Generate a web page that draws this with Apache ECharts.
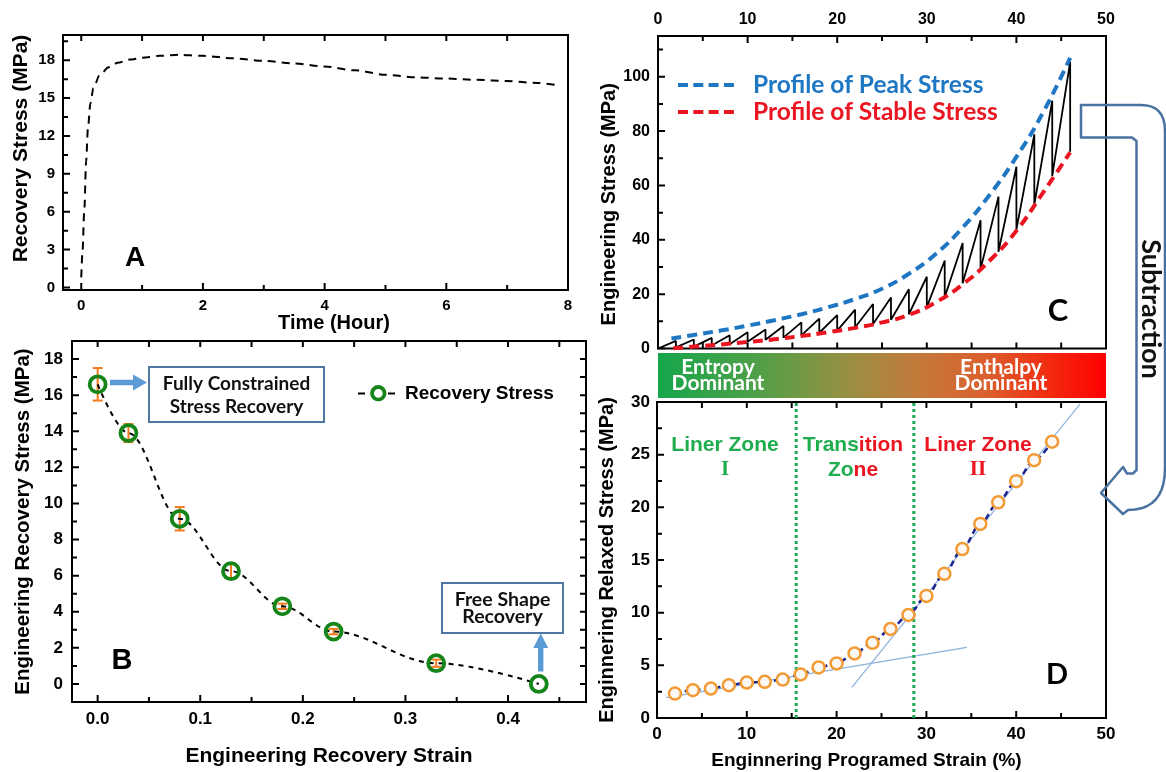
<!DOCTYPE html>
<html>
<head>
<meta charset="utf-8">
<script src="https://cdn.jsdelivr.net/npm/echarts@6/dist/echarts.min.js"></script>
<style>
  html, body { margin: 0; padding: 0; background: #fff; }
  #chart { width: 1166px; height: 772px; }
</style>
</head>
<body>
<div id="chart"></div>
<script>
// ---------- Panel A: recovery stress over time ----------
const timeHours = [0, 0.02, 0.05, 0.08, 0.11, 0.15, 0.2, 0.3, 0.45, 0.6, 0.8, 1.0, 1.3, 1.6, 2.0, 2.5, 3.0, 3.5, 4.0, 4.5, 5.0, 5.5, 6.0, 6.5, 7.0, 7.5, 7.8];
const recoveryStressA = [0.8, 2.8, 6.1, 10.0, 12.6, 14.6, 15.8, 16.8, 17.45, 17.8, 18.05, 18.2, 18.35, 18.43, 18.35, 18.15, 17.95, 17.75, 17.5, 17.2, 16.85, 16.65, 16.55, 16.45, 16.35, 16.2, 16.05];
const ticksA_x = [0, 2, 4, 6, 8];
const minorA_x = [1, 3, 5, 7];
const topA_x = [0, 1, 2, 3, 4, 5, 6, 7, 8];
const ticksA_y = [0, 3, 6, 9, 12, 15, 18];
const minorA_y = [1.5, 4.5, 7.5, 10.5, 13.5, 16.5, 19.5];

// ---------- Panel B: recovery stress vs recovery strain ----------
const recoveryStrain = [0.0, 0.03, 0.08, 0.13, 0.18, 0.23, 0.33, 0.43];
const recoveryStressB = [16.6, 13.9, 9.15, 6.25, 4.3, 2.9, 1.15, 0.0];
const recoveryStressErr = [0.9, 0.5, 0.65, 0.42, 0.15, 0.15, 0.2, 0];
const ticksB_x = [0, 0.1, 0.2, 0.3, 0.4];
const minorB_x = [0.05, 0.15, 0.25, 0.35, 0.45];
const topB_x = [0, 0.05, 0.1, 0.15, 0.2, 0.25, 0.3, 0.35, 0.4, 0.45];
const ticksB_y = [0, 2, 4, 6, 8, 10, 12, 14, 16, 18];
const minorB_y = [1, 3, 5, 7, 9, 11, 13, 15, 17];
const rightB_y = [0, 1, 2, 3, 4, 5, 6, 7, 8, 9, 10, 11, 12, 13, 14, 15, 16, 17, 18];

// ---------- Panel C: cyclic loading / relaxation ----------
const cycleStrain = [2, 4, 6, 8, 10, 12, 14, 16, 18, 20, 22, 24, 26, 28, 30, 32, 34, 36, 38, 40, 42, 44, 46];
const peakStress = [2.8, 3.3, 3.9, 4.9, 6.0, 7.0, 8.3, 9.6, 11.0, 12.3, 14.3, 16.4, 18.8, 21.8, 26.4, 32.4, 38.8, 47.2, 55.9, 66.9, 78.8, 91.2, 105.5];
const stableStress = [0.4, 0.7, 1.1, 1.6, 2.5, 3.2, 4.0, 4.8, 5.8, 6.6, 7.8, 9.0, 10.6, 12.6, 15.2, 18.9, 24.0, 29.2, 35.6, 43.8, 53.0, 63.5, 72.4];
const peakProfileStrain = [1.5, 4, 7, 10, 13, 16, 19, 22, 25, 28, 31, 34, 37, 40, 43, 46];
const peakProfileStress = [3.7, 5.0, 6.6, 8.4, 10.4, 12.6, 15.2, 18.2, 22.0, 27.5, 34.8, 44.5, 56.5, 70.5, 87.0, 107.0];
const stableProfileStrain = [1.7, 4, 7, 10, 13, 16, 19, 22, 25, 28, 31, 34, 37, 40, 43, 46];
const stableProfileStress = [0.1, 0.7, 1.5, 2.4, 3.4, 4.6, 6.0, 7.6, 9.6, 12.4, 17.0, 23.6, 32.3, 43.3, 57.5, 72.2];
const ticksC_x = [0, 10, 20, 30, 40, 50];
const minorC_x = [5, 15, 25, 35, 45];
const bottomC_x = [5, 10, 15, 20, 25, 30, 35, 40, 45];
const ticksC_y = [0, 20, 40, 60, 80, 100];
const minorC_y = [10, 30, 50, 70, 90, 110];

// ---------- Panel D: relaxed stress vs programmed strain ----------
const programStrain = [2, 4, 6, 8, 10, 12, 14, 16, 18, 20, 22, 24, 26, 28, 30, 32, 34, 36, 38, 40, 42, 44];
const relaxedStress = [2.32, 2.64, 2.8, 3.11, 3.37, 3.43, 3.65, 4.13, 4.8, 5.18, 6.13, 7.14, 8.45, 9.78, 11.59, 13.69, 16.04, 18.42, 20.48, 22.48, 24.48, 26.23];
const zoneBounds = [15.5, 28.6];
const fitZoneI = [[1, 1.94], [34.5, 6.7]];
const fitZoneII = [[21.7, 2.9], [47.1, 29.8]];
const ticksD_x = [0, 10, 20, 30, 40, 50];
const minorD_x = [5, 15, 25, 35, 45];
const topD_x = [5, 10, 15, 20, 25, 30, 35, 40, 45];
const ticksD_y = [0, 5, 10, 15, 20, 25, 30];
const minorD_y = [2.5, 7.5, 12.5, 17.5, 22.5, 27.5];

const ARIAL = '"Liberation Sans", Arial, sans-serif';
const CALI = 'Lato, "Open Sans", sans-serif';
const GREEN = '#20ad4e';
const RED = '#ea1520';
const BLUE = '#1f77c4';

const chart = echarts.init(document.getElementById('chart'), null, { renderer: 'canvas' });

// plot boxes and axis extents per panel (A, B, C, D)
const gridRects = [
  { left: 63, top: 35, width: 505, height: 255 },
  { left: 72, top: 341, width: 514, height: 361 },
  { left: 658, top: 36, width: 448, height: 312.5 },
  { left: 657, top: 402, width: 449, height: 316 }
];
const xRange = [[-0.3, 8], [-0.025, 0.476], [0, 50], [0, 50]];
const yRange = [[-0.2, 20], [-1, 19], [0, 115], [0, 30]];

// one labelled value axis per side; the inward tick marks are drawn as line segments
function valueAxis(o) {
  const a = {
    type: 'value', gridIndex: o.grid, position: o.pos, min: o.range[0], max: o.range[1],
    axisLine: { show: false, onZero: false },
    axisTick: { show: false },
    splitLine: { show: false },
    axisLabel: { show: true, customValues: o.labels, margin: o.margin, fontSize: o.size, fontWeight: 'bold', fontFamily: ARIAL, color: '#000' }
  };
  if (o.fmt) a.axisLabel.formatter = o.fmt;
  if (o.name) {
    a.name = o.name;
    a.nameLocation = 'middle';
    a.nameGap = o.gap;
    a.nameRotate = o.vertical ? 90 : 0;
    a.nameTextStyle = { fontFamily: ARIAL, fontWeight: 'bold', fontSize: o.nameSize, color: '#000', padding: o.namePad || 0 };
  }
  return a;
}

const xAxes = [
  valueAxis({ grid: 0, pos: 'bottom', range: xRange[0], labels: ticksA_x, size: 15, margin: 8, name: 'Time (Hour)', gap: 22, nameSize: 20, namePad: [0, 0, 0, 37] }),
  valueAxis({ grid: 1, pos: 'bottom', range: xRange[1], labels: ticksB_x, size: 17, margin: 9, fmt: v => Number(v).toFixed(1), name: 'Engineering Recovery Strain', gap: 44, nameSize: 21 }),
  valueAxis({ grid: 2, pos: 'top', range: xRange[2], labels: ticksC_x, size: 16, margin: 8 }),
  valueAxis({ grid: 3, pos: 'bottom', range: xRange[3], labels: ticksD_x, size: 17, margin: 8, name: 'Enginnering Programed Strain (%)', gap: 33, nameSize: 19, namePad: [0, 30, 0, 0] })
];
const yAxes = [
  valueAxis({ grid: 0, pos: 'left', range: yRange[0], labels: ticksA_y, size: 15, margin: 8, name: 'Recovery Stress (MPa)', gap: 31, nameSize: 21, namePad: [0, 0, 0, 28], vertical: true }),
  valueAxis({ grid: 1, pos: 'left', range: yRange[1], labels: ticksB_y, size: 17, margin: 9, name: 'Engineering Recovery Stress (MPa)', gap: 38, nameSize: 20.5, vertical: true }),
  valueAxis({ grid: 2, pos: 'left', range: yRange[2], labels: ticksC_y, size: 16, margin: 8, name: 'Engineering Stress (MPa)', gap: 39, nameSize: 20, namePad: [0, 24, 0, 0], vertical: true }),
  valueAxis({ grid: 3, pos: 'left', range: yRange[3], labels: ticksD_y, size: 17, margin: 7, name: 'Enginnering Relaxed Stress (MPa)', gap: 40, nameSize: 20, vertical: true })
];

// inward tick segments, separated by gaps; lengths given in pixels
function xTicks(p, values, side, lenPx) {
  const [y0, y1] = yRange[p];
  const d = lenPx * (y1 - y0) / gridRects[p].height;
  const base = side === 0 ? y0 : y1;
  const tip = side === 0 ? y0 + d : y1 - d;
  return values.flatMap(v => [[v, base], [v, tip], ['-', '-']]);
}
function yTicks(p, values, side, lenPx) {
  const [x0, x1] = xRange[p];
  const d = lenPx * (x1 - x0) / gridRects[p].width;
  const base = side === 0 ? x0 : x1;
  const tip = side === 0 ? x0 + d : x1 - d;
  return values.flatMap(v => [[base, v], [tip, v], ['-', '-']]);
}
function tickSeries(p, pts) {
  return {
    type: 'line', name: 'ticks ' + p, xAxisIndex: p, yAxisIndex: p, z: 5, silent: true,
    data: pts, symbol: 'none',
    lineStyle: { color: '#000', width: 2 }
  };
}

const zip = (xs, ys) => xs.map((x, i) => [x, ys[i]]);

// saw-tooth path: load up to each peak, then relax down at constant strain
const sawtooth = [[0, 0]];
cycleStrain.forEach((s, i) => { sawtooth.push([s, peakStress[i]]); sawtooth.push([s, stableStress[i]]); });

// outline of the bent "subtraction" arrow, with rounded outer corners
function quad(p0, c, p1, n) {
  const pts = [];
  for (let i = 1; i <= n; i++) {
    const t = i / n, u = 1 - t;
    pts.push([u * u * p0[0] + 2 * u * t * c[0] + t * t * p1[0], u * u * p0[1] + 2 * u * t * c[1] + t * t * p1[1]]);
  }
  return pts;
}
const bracketPts = [[1081, 105], [1141, 105]]
  .concat(quad([1141, 105], [1165, 105], [1165, 131], 8))
  .concat([[1165, 468]])
  .concat(quad([1165, 468], [1165, 510], [1128, 510], 10))
  .concat([[1123, 514], [1101, 493], [1123, 467], [1127, 473.5], [1133, 473.5], [1136.5, 470], [1136.5, 141], [1132, 137.5], [1081, 137.5]]);

const option = {
  animation: false,
  backgroundColor: '#fff',
  grid: gridRects.map(r => Object.assign({ show: true, borderColor: '#000', borderWidth: 2, backgroundColor: 'transparent', containLabel: false }, r)),
  xAxis: xAxes,
  yAxis: yAxes,
  series: [
    tickSeries(0, [].concat(xTicks(0, ticksA_x, 0, 7), xTicks(0, minorA_x, 0, 5), xTicks(0, topA_x, 1, 6), yTicks(0, ticksA_y, 0, 7), yTicks(0, minorA_y, 0, 5))),
    tickSeries(1, [].concat(xTicks(1, ticksB_x, 0, 7), xTicks(1, minorB_x, 0, 5), xTicks(1, topB_x, 1, 6), yTicks(1, ticksB_y, 0, 7), yTicks(1, minorB_y, 0, 5), yTicks(1, rightB_y, 1, 6))),
    tickSeries(2, [].concat(xTicks(2, ticksC_x, 1, 7), xTicks(2, minorC_x, 1, 5), xTicks(2, bottomC_x, 0, 6), yTicks(2, ticksC_y, 0, 7), yTicks(2, minorC_y, 0, 5))),
    tickSeries(3, [].concat(xTicks(3, ticksD_x, 0, 7), xTicks(3, minorD_x, 0, 5), xTicks(3, topD_x, 1, 6), yTicks(3, ticksD_y, 0, 7), yTicks(3, minorD_y, 0, 5))),
    // A
    {
      type: 'line', name: 'Recovery stress (time)', xAxisIndex: 0, yAxisIndex: 0,
      data: zip(timeHours, recoveryStressA), showSymbol: false, symbol: 'none', smooth: 0.3, smoothMonotone: 'x',
      lineStyle: { color: '#000', width: 2, type: [8, 6] }
    },
    // B error bars
    {
      type: 'custom', name: 'Recovery stress error', xAxisIndex: 1, yAxisIndex: 1, z: 2,
      data: recoveryStrain.map((x, i) => [x, recoveryStressB[i], recoveryStressErr[i]]),
      encode: { x: 0, y: 1 },
      renderItem: function (params, api) {
        const x = api.value(0), y = api.value(1), e = api.value(2);
        if (!(e > 0)) return { type: 'group', children: [] };
        const hi = api.coord([x, y + e]);
        const lo = api.coord([x, y - e]);
        const cap = 5;
        const st = { stroke: '#f07c1e', lineWidth: 2 };
        return {
          type: 'group', children: [
            { type: 'line', shape: { x1: hi[0], y1: hi[1], x2: lo[0], y2: lo[1] }, style: st },
            { type: 'line', shape: { x1: hi[0] - cap, y1: hi[1], x2: hi[0] + cap, y2: hi[1] }, style: st },
            { type: 'line', shape: { x1: lo[0] - cap, y1: lo[1], x2: lo[0] + cap, y2: lo[1] }, style: st }
          ]
        };
      }
    },
    // B main series
    {
      type: 'line', name: 'Recovery Stress', xAxisIndex: 1, yAxisIndex: 1, z: 3,
      data: zip(recoveryStrain, recoveryStressB), smooth: 0.35, smoothMonotone: 'x',
      symbol: 'circle', symbolSize: 16,
      itemStyle: { color: 'rgba(255,255,255,0)', borderColor: '#15851a', borderWidth: 3.8 },
      lineStyle: { color: '#000', width: 2, type: [5, 5] }
    },
    // C saw-tooth
    {
      type: 'line', name: 'Cyclic stress', xAxisIndex: 2, yAxisIndex: 2, z: 2,
      data: sawtooth, showSymbol: false, symbol: 'none',
      lineStyle: { color: '#000', width: 1.8 }
    },
    {
      type: 'line', name: 'Profile of Peak Stress', xAxisIndex: 2, yAxisIndex: 2, z: 3,
      data: zip(peakProfileStrain, peakProfileStress), symbol: 'none', smooth: 0.5,
      lineStyle: { color: BLUE, width: 4, type: [10, 6] }
    },
    {
      type: 'line', name: 'Profile of Stable Stress', xAxisIndex: 2, yAxisIndex: 2, z: 3,
      data: zip(stableProfileStrain, stableProfileStress), symbol: 'none', smooth: 0.5,
      lineStyle: { color: RED, width: 4, type: [10, 6] }
    },
    // D fit lines and zone boundaries
    {
      type: 'line', name: 'Fit zone I', xAxisIndex: 3, yAxisIndex: 3, z: 1,
      data: fitZoneI, symbol: 'none', lineStyle: { color: '#8db1dc', width: 1.2 }
    },
    {
      type: 'line', name: 'Fit zone II', xAxisIndex: 3, yAxisIndex: 3, z: 1,
      data: fitZoneII, symbol: 'none', lineStyle: { color: '#8db1dc', width: 1.2 }
    },
    ...zoneBounds.map((b, i) => ({
      type: 'line', name: 'Zone bound ' + (i + 1), xAxisIndex: 3, yAxisIndex: 3, z: 2,
      data: [[b, 0], [b, 30]], symbol: 'none',
      lineStyle: { color: '#1aa955', width: 3, type: [3, 3] }
    })),
    {
      type: 'line', name: 'Relaxed stress', xAxisIndex: 3, yAxisIndex: 3, z: 3,
      data: zip(programStrain, relaxedStress), smooth: 0.3, smoothMonotone: 'x',
      symbol: 'circle', symbolSize: 12,
      itemStyle: { color: '#fbf7f2', borderColor: '#f29a34', borderWidth: 2.5 },
      lineStyle: { color: '#1b2690', width: 2.5, type: [6, 4] }
    }
  ],
  graphic: [
    // entropy / enthalpy colour band
    {
      type: 'rect', shape: { x: 658, y: 353, width: 448, height: 45 }, z: 10,
      style: {
        fill: {
          type: 'linear', x: 0, y: 0, x2: 1, y2: 0,
          colorStops: [
            { offset: 0, color: '#16a64b' },
            { offset: 0.22, color: '#4fa048' },
            { offset: 0.42, color: '#979042' },
            { offset: 0.58, color: '#c47a3b' },
            { offset: 0.74, color: '#dc5e2d' },
            { offset: 0.88, color: '#f3280f' },
            { offset: 1, color: '#ff0000' }
          ]
        }
      }
    },
    {
      type: 'text', x: 718, y: 375, z: 11,
      style: { text: 'Entropy\nDominant', fill: '#fff', font: 'bold 21px ' + CALI, lineHeight: 16, align: 'center', verticalAlign: 'middle' }
    },
    {
      type: 'text', x: 1001, y: 375, z: 11,
      style: { text: 'Enthalpy\nDominant', fill: '#fff', font: 'bold 21px ' + CALI, lineHeight: 16, align: 'center', verticalAlign: 'middle' }
    },
    // legend of panel B
    { type: 'line', z: 11, shape: { x1: 358, y1: 393.5, x2: 365, y2: 393.5 }, style: { stroke: '#000', lineWidth: 2 } },
    { type: 'line', z: 11, shape: { x1: 388, y1: 393.5, x2: 395, y2: 393.5 }, style: { stroke: '#000', lineWidth: 2 } },
    { type: 'circle', z: 11, shape: { cx: 378.3, cy: 393.3, r: 6.3 }, style: { fill: 'none', stroke: '#15851a', lineWidth: 3.8 } },
    { type: 'text', x: 405, y: 393.5, z: 11, style: { text: 'Recovery Stress', fill: '#000', font: 'bold 19px ' + ARIAL, align: 'left', verticalAlign: 'middle' } },
    // legend of panel C
    { type: 'line', z: 11, shape: { x1: 678, y1: 85, x2: 734, y2: 85 }, style: { stroke: BLUE, lineWidth: 4, lineDash: [10, 5.3] } },
    { type: 'text', x: 753, y: 85, z: 11, style: { text: 'Profile of Peak Stress', fill: BLUE, font: 'bold 24.5px ' + CALI, align: 'left', verticalAlign: 'middle' } },
    { type: 'line', z: 11, shape: { x1: 678, y1: 112, x2: 734, y2: 112 }, style: { stroke: RED, lineWidth: 4, lineDash: [10, 5.3] } },
    { type: 'text', x: 753, y: 112, z: 11, style: { text: 'Profile of Stable Stress', fill: RED, font: 'bold 24.5px ' + CALI, align: 'left', verticalAlign: 'middle' } },
    // panel letters
    { type: 'text', x: 135, y: 258, z: 11, style: { text: 'A', fill: '#000', font: 'bold 28px ' + ARIAL, align: 'center', verticalAlign: 'middle' } },
    { type: 'text', x: 122, y: 661, z: 11, style: { text: 'B', fill: '#000', font: 'bold 29px ' + ARIAL, align: 'center', verticalAlign: 'middle' } },
    { type: 'text', x: 1058, y: 311, z: 11, style: { text: 'C', fill: '#000', font: 'bold 31px ' + CALI, align: 'center', verticalAlign: 'middle' } },
    { type: 'text', x: 1057, y: 675, z: 11, style: { text: 'D', fill: '#000', font: 'bold 29px ' + CALI, align: 'center', verticalAlign: 'middle' } },
    // zone labels in panel D
    {
      type: 'text', x: 725, y: 457.5, z: 11,
      style: {
        text: '{g|Liner Zone}\n{gs|I}', align: 'center', verticalAlign: 'middle',
        rich: {
          g: { fill: GREEN, font: 'bold 21px ' + ARIAL, lineHeight: 25 },
          gs: { fill: GREEN, font: 'bold 21px "Liberation Serif", serif', lineHeight: 25 }
        }
      }
    },
    {
      type: 'text', x: 853, y: 457.5, z: 11,
      style: {
        text: '{g|Trans}{r|ition}\n{g|Zo}{r|ne}', align: 'center', verticalAlign: 'middle',
        rich: {
          g: { fill: GREEN, font: 'bold 21px ' + ARIAL, lineHeight: 25 },
          r: { fill: RED, font: 'bold 21px ' + ARIAL, lineHeight: 25 }
        }
      }
    },
    {
      type: 'text', x: 978, y: 457.5, z: 11,
      style: {
        text: '{r|Liner Zone}\n{rs|II}', align: 'center', verticalAlign: 'middle',
        rich: {
          r: { fill: RED, font: 'bold 21px ' + ARIAL, lineHeight: 25 },
          rs: { fill: RED, font: 'bold 21px "Liberation Serif", serif', lineHeight: 25 }
        }
      }
    },
    // callouts in panel B
    { type: 'rect', shape: { x: 149, y: 367, width: 175, height: 55 }, z: 10, style: { fill: '#fff', stroke: '#4f77a4', lineWidth: 2 } },
    { type: 'text', x: 236.5, y: 395, z: 11, style: { text: 'Fully Constrained\nStress Recovery', fill: '#111', font: 'bold 19px ' + CALI, lineHeight: 23, align: 'center', verticalAlign: 'middle' } },
    { type: 'rect', shape: { x: 442, y: 583, width: 121, height: 50 }, z: 10, style: { fill: '#fff', stroke: '#4f77a4', lineWidth: 2 } },
    { type: 'text', x: 502.5, y: 608.5, z: 11, style: { text: 'Free Shape\nRecovery', fill: '#111', font: 'bold 19.5px ' + CALI, lineHeight: 17, align: 'center', verticalAlign: 'middle' } },
    {
      type: 'polygon', z: 10,
      shape: { points: [[110, 379.8], [133, 379.8], [133, 374.5], [147, 382.5], [133, 390.5], [133, 385.2], [110, 385.2]] },
      style: { fill: '#5b9bd5' }
    },
    {
      type: 'polygon', z: 10,
      shape: { points: [[538, 671.5], [538, 648], [533.2, 648], [540.7, 633.5], [548.2, 648], [543.4, 648], [543.4, 671.5]] },
      style: { fill: '#5b9bd5' }
    },
    // subtraction bracket arrow from C to D
    {
      type: 'polygon', z: 12,
      shape: { points: bracketPts },
      style: { fill: 'none', stroke: '#4a72a0', lineWidth: 2.5, lineJoin: 'round' }
    },
    {
      type: 'text', x: 1151, y: 309, rotation: -Math.PI / 2, z: 12,
      style: { text: 'Subtraction', fill: '#111', font: 'bold 27px ' + CALI, align: 'center', verticalAlign: 'middle' }
    }
  ]
};

chart.setOption(option);
</script>
</body>
</html>
